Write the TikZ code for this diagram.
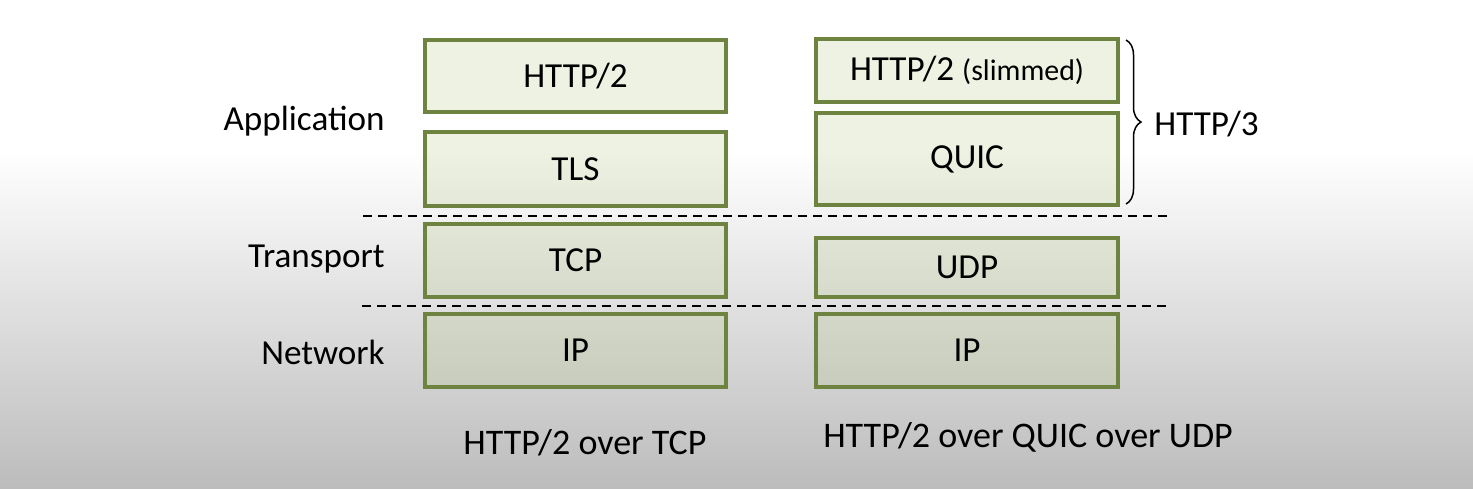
\documentclass[tikz,border=0pt]{standalone}
\usepackage{fontspec}
\setmainfont{Carlito}
\usepackage{tikz}
\usetikzlibrary{decorations.pathreplacing}

\definecolor{boxline}{RGB}{110,131,64}
\definecolor{boxfill}{RGB}{170,190,110}
\definecolor{bgbot}{RGB}{188,188,188}

\tikzset{
    layer/.style={draw=boxline, line width=0.08cm, fill=boxfill, fill opacity=0.2,
        text opacity=1, inner sep=0pt, font=\fontsize{20}{24}\selectfont},
    tag/.style={inner sep=0pt, font=\fontsize{20}{24}\selectfont},
    split/.style={dash pattern=on 0.18cm off 0.12cm, line width=0.03cm}
}

\begin{document}
\begin{tikzpicture}[x=0.02cm, y=-0.02cm]
    	% Background:
    	\useasboundingbox (0, 0) rectangle (1473, 488);
    	\fill[white] (0, 0) rectangle (1473, 151);
    	\fill[top color=white, bottom color=bgbot] (0, 150) rectangle (1473, 488);
    	% Stack over TCP:
    	\node[layer, minimum width=6.02cm, minimum height=1.44cm] (H2) at (575.5, 76) {HTTP/2};
    	\node[layer, minimum width=6.02cm, minimum height=1.48cm] (TLS) at (575.5, 169) {TLS};
    	\node[layer, minimum width=6.02cm, minimum height=1.46cm] (TCP) at (575.5, 260.5) {TCP};
    	\node[layer, minimum width=6.02cm, minimum height=1.46cm] (IPa) at (575.5, 350.5) {IP};
    	% Stack over UDP:
    	\node[layer, minimum width=6.04cm, minimum height=1.26cm] (H2s) at (967, 70.5) {HTTP/2 {\fontsize{17}{20}\selectfont(slimmed)}};
    	\node[layer, minimum width=6.04cm, minimum height=1.84cm] (QUIC) at (967, 159) {QUIC};
    	\node[layer, minimum width=6.04cm, minimum height=1.18cm] (UDP) at (967, 267.5) {UDP};
    	\node[layer, minimum width=6.04cm, minimum height=1.46cm] (IPb) at (967, 350.5) {IP};
    	% Layer names:
    	\node[tag, anchor=east] (App) at (385, 121) {Application};
    	\node[tag, anchor=east] (Trans) at (385, 259) {Transport};
    	\node[tag, anchor=east] (Net) at (385, 352) {Network};
    	% Dashed borders:
    	\coordinate (D1a) at (363, 216);
    	\coordinate (D1b) at (1170, 216);
    	\coordinate (D2a) at (362, 306);
    	\coordinate (D2b) at (1168, 306);
    	\draw[split] (D1a) -- (D1b);
    	\draw[split] (D2a) -- (D2b);
    	% Brace:
    	\coordinate (B1) at (1126, 40);
    	\coordinate (B2) at (1126, 204);
    	\draw[line width=0.03cm, decorate, decoration={brace, amplitude=0.3cm}] (B1) -- (B2);
    	\node[tag, anchor=west] (H3) at (1154, 124) {HTTP/3};
    	% Captions:
    	\node[tag, font=\fontsize{20.5}{24}\selectfont] (CapA) at (585, 443) {HTTP/2 over TCP};
    	\node[tag, font=\fontsize{20.5}{24}\selectfont] (CapB) at (1028, 437) {HTTP/2 over QUIC over UDP};
    \end{tikzpicture}
\end{document}
